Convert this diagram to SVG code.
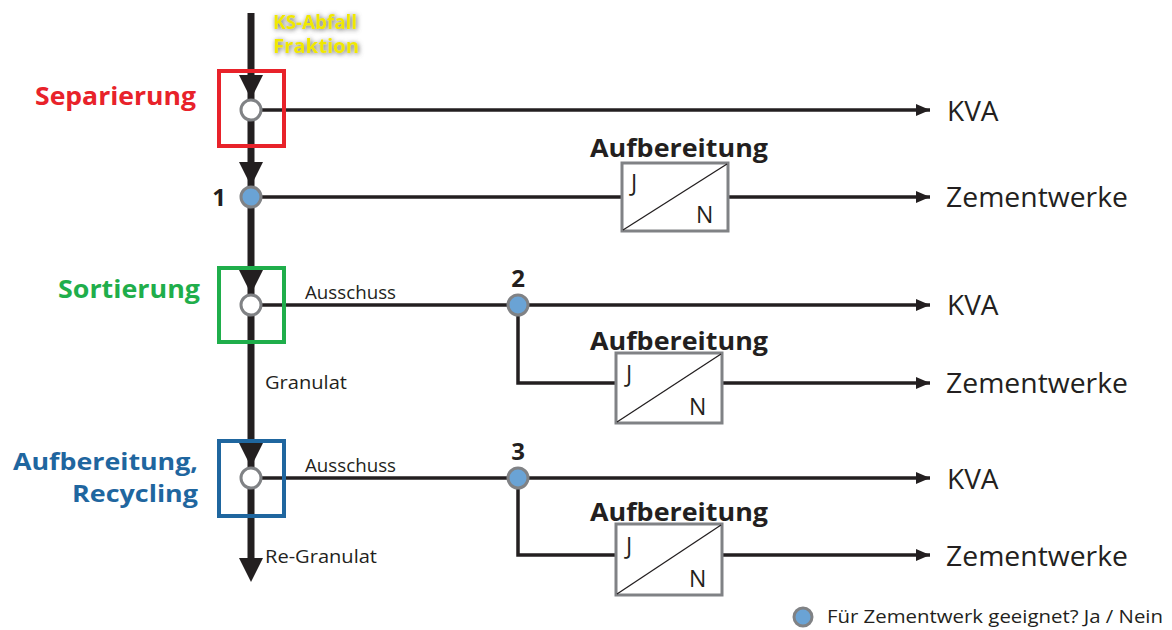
<svg xmlns="http://www.w3.org/2000/svg" width="1172" height="630" viewBox="0 0 1172 630">
<defs>
<marker id="ah" viewBox="0 0 14 12" refX="14" refY="6" markerWidth="14" markerHeight="12" markerUnits="userSpaceOnUse" orient="auto">
<path d="M0,0 L14,6 L0,12 Z" fill="#231f20"/>
</marker>
<filter id="glow" x="-20%" y="-40%" width="140%" height="180%">
<feGaussianBlur in="SourceAlpha" stdDeviation="2.5"/>
<feOffset dx="1" dy="1" result="b"/>
<feFlood flood-color="#666" flood-opacity="1"/>
<feComposite in2="b" operator="in"/>
<feMerge><feMergeNode/><feMergeNode in="SourceGraphic"/></feMerge>
</filter>
</defs>
<style>
text{font-family:"Open Sans","Noto Sans","Liberation Sans",sans-serif;fill:#231f20}
.big{font-size:28px}
.bold{font-weight:bold}
.hd{font-size:25px;font-weight:bold}
.sm{font-size:18px}
.jn{font-size:23px}
.lab{font-size:25px;font-weight:bold}
.thin{stroke:#231f20;stroke-width:3.5;fill:none}
.main{stroke:#231f20;stroke-width:7;fill:none}
.tri{fill:#231f20}
.sw{fill:#fff;stroke:#808285;stroke-width:3}
.nd{fill:#6aa3d5;stroke:#808285;stroke-width:3}
.box{fill:#fff;stroke:#808285;stroke-width:3}
.diag{stroke:#231f20;stroke-width:1.3}
</style>
<rect width="1172" height="630" fill="#fff"/>
<g id="connectors">
<line class="main" x1="251" y1="13" x2="251" y2="560"/>
<polygon class="tri" points="239,75 263,75 251,99"/>
<polygon class="tri" points="239,162 263,162 251,186"/>
<polygon class="tri" points="239,270 263,270 251,294"/>
<polygon class="tri" points="239,443 263,443 251,467"/>
<polygon class="tri" points="239,558 263,558 251,582"/>
<line class="thin" x1="262" y1="110" x2="930" y2="110" marker-end="url(#ah)"/>
<line class="thin" x1="262" y1="197" x2="622" y2="197"/>
<line class="thin" x1="728" y1="197" x2="930" y2="197" marker-end="url(#ah)"/>
<line class="thin" x1="262" y1="305" x2="930" y2="305" marker-end="url(#ah)"/>
<polyline class="thin" points="518,305 518,383 616,383"/>
<line class="thin" x1="722" y1="383" x2="930" y2="383" marker-end="url(#ah)"/>
<line class="thin" x1="262" y1="478" x2="930" y2="478" marker-end="url(#ah)"/>
<polyline class="thin" points="518,478 518,555 616,555"/>
<line class="thin" x1="722" y1="555" x2="930" y2="555" marker-end="url(#ah)"/>
</g>
<g id="input">
<text x="273" y="29" font-size="19" class="bold" style="fill:#f0e800" filter="url(#glow)" textLength="84" lengthAdjust="spacingAndGlyphs">KS-Abfall</text>
<text x="273" y="53" font-size="19" class="bold" style="fill:#f0e800" filter="url(#glow)" textLength="86" lengthAdjust="spacingAndGlyphs">Fraktion</text>
</g>
<g id="separierung">
<rect x="219" y="71" width="65" height="75" fill="none" stroke="#e8222a" stroke-width="4"/>
<circle class="sw" cx="251" cy="110" r="10"/>
<text x="35" y="105" class="lab" style="fill:#e8222a" textLength="161" lengthAdjust="spacingAndGlyphs">Separierung</text>
</g>
<g id="node1">
<circle class="nd" cx="251" cy="197" r="10"/>
<text x="226" y="206" text-anchor="end" font-size="24" class="bold">1</text>
</g>
<g id="aufb1">
<text x="590" y="157" class="hd" textLength="178" lengthAdjust="spacingAndGlyphs">Aufbereitung</text>
<rect class="box" x="622" y="163" width="106" height="68"/>
<line class="diag" x1="623" y1="230" x2="727" y2="164"/>
<text x="631" y="191" class="jn">J</text>
<text x="696" y="223" class="jn">N</text>
</g>
<g id="sortierung">
<rect x="219" y="268" width="65" height="74" fill="none" stroke="#1fae4b" stroke-width="4"/>
<circle class="sw" cx="251" cy="305" r="10"/>
<text x="58" y="298" class="lab" style="fill:#1fae4b" textLength="142" lengthAdjust="spacingAndGlyphs">Sortierung</text>
<text x="305" y="299" class="sm" textLength="91" lengthAdjust="spacingAndGlyphs">Ausschuss</text>
<text x="265" y="389" class="sm" textLength="82" lengthAdjust="spacingAndGlyphs">Granulat</text>
</g>
<g id="node2">
<circle class="nd" cx="518" cy="305" r="10"/>
<text x="518" y="287" text-anchor="middle" font-size="24" class="bold">2</text>
</g>
<g id="aufb2">
<text x="590" y="350" class="hd" textLength="178" lengthAdjust="spacingAndGlyphs">Aufbereitung</text>
<rect class="box" x="616" y="353" width="106" height="70"/>
<line class="diag" x1="617" y1="422" x2="721" y2="354"/>
<text x="626" y="382" class="jn">J</text>
<text x="689" y="415" class="jn">N</text>
</g>
<g id="recycling">
<rect x="219" y="441" width="65" height="75" fill="none" stroke="#1f669f" stroke-width="4"/>
<circle class="sw" cx="251" cy="478" r="10"/>
<text x="13" y="470" class="lab" style="fill:#1f669f;font-size:24px" textLength="185" lengthAdjust="spacingAndGlyphs">Aufbereitung,</text>
<text x="72" y="502" class="lab" style="fill:#1f669f;font-size:24px" textLength="126" lengthAdjust="spacingAndGlyphs">Recycling</text>
<text x="305" y="472" class="sm" textLength="91" lengthAdjust="spacingAndGlyphs">Ausschuss</text>
<text x="265" y="563" class="sm" textLength="112" lengthAdjust="spacingAndGlyphs">Re-Granulat</text>
</g>
<g id="node3">
<circle class="nd" cx="518" cy="478" r="10"/>
<text x="518" y="460" text-anchor="middle" font-size="24" class="bold">3</text>
</g>
<g id="aufb3">
<text x="590" y="521" class="hd" textLength="178" lengthAdjust="spacingAndGlyphs">Aufbereitung</text>
<rect class="box" x="616" y="524" width="106" height="71"/>
<line class="diag" x1="617" y1="594" x2="721" y2="525"/>
<text x="626" y="554" class="jn">J</text>
<text x="689" y="587" class="jn">N</text>
</g>
<g id="outputs">
<text x="947" y="121" class="big">KVA</text>
<text x="946" y="207" class="big" textLength="182" lengthAdjust="spacingAndGlyphs">Zementwerke</text>
<text x="947" y="315" class="big">KVA</text>
<text x="946" y="393" class="big" textLength="182" lengthAdjust="spacingAndGlyphs">Zementwerke</text>
<text x="947" y="489" class="big">KVA</text>
<text x="946" y="566" class="big" textLength="182" lengthAdjust="spacingAndGlyphs">Zementwerke</text>
</g>
<g id="legend">
<circle class="nd" cx="803" cy="617" r="9"/>
<text x="827" y="623" font-size="17.5" textLength="336" lengthAdjust="spacingAndGlyphs">Für Zementwerk geeignet? Ja / Nein</text>
</g>
</svg>
